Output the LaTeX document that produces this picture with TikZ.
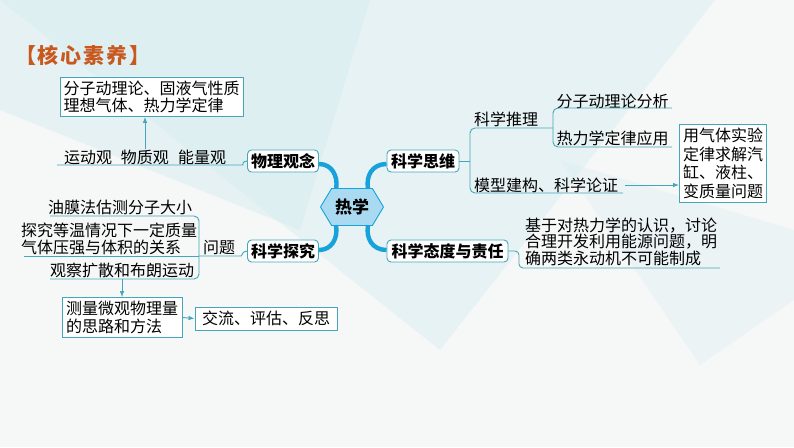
\documentclass[tikz,border=0pt]{standalone}
\usepackage{fontspec}
\setmainfont{Noto Sans CJK SC}
\usetikzlibrary{shapes.symbols,arrows.meta,positioning}
\definecolor{linecol}{HTML}{45A6BA}
\definecolor{trunkcol}{HTML}{17A2DB}
\definecolor{hexfill}{HTML}{A9DAF1}
\definecolor{titlecol}{HTML}{C9581F}
\definecolor{bgcol}{HTML}{F6F7F7}
\definecolor{bandcol}{HTML}{D6EDF1}
\def\bodyfont{\fontsize{16}{17}\selectfont}

\begin{document}
\begin{tikzpicture}[x=1pt,y=-1pt,
    every node/.style={font=\bodyfont,inner sep=0pt},
    topic/.style={draw=linecol,fill=white,rounded corners=4pt,line width=.9pt,
      font=\bodyfont\bfseries,minimum height=22pt},
    box/.style={draw=linecol,fill=white,line width=.9pt,align=left,inner sep=3.5pt},
    branch/.style={draw=linecol,line width=.9pt,rounded corners=5pt},
    trunk/.style={draw=trunkcol,line width=4.4pt},
    arr/.style={draw=linecol,line width=.9pt,-{Latex[length=6pt,width=4.5pt]}}]
  \fill[bgcol] (0,0) rectangle (794,447);
  \fill[bandcol,opacity=.45] (0,0) -- (715,0) -- (440,350) -- cycle;
  \fill[bandcol,opacity=.5] (0,0) -- (370,0) -- (300,230) -- (0,110) -- cycle;
  \fill[bandcol,opacity=.3] (560,160) -- (794,230) -- (794,300) -- (700,365) -- cycle;

  \node[text=titlecol,font=\fontsize{21}{21}\selectfont\bfseries] (title) at (83,55)
    {【\hspace{2pt}核\hspace{2pt}心\hspace{2pt}素\hspace{2pt}养\hspace{2pt}】};

  \node[topic,fill=hexfill,draw=trunkcol,rounded corners=0pt,signal,signal to=east and west,
    signal pointer angle=118,minimum width=63pt,minimum height=37pt,
    font=\fontsize{17}{17}\selectfont\bfseries] (heat) at (352,207) {热学};
  \node[topic,minimum width=71pt] (phys) at (283,161) {物理观念};
  \node[topic,minimum width=72pt] (think) at (423,161) {科学思维};
  \node[topic,minimum width=71pt] (inquiry) at (283,251) {科学探究};
  \node[topic,minimum width=121pt] (attitude) at (447.5,251) {科学态度与责任};

  \draw[trunk] ([yshift=-3pt]phys.east) .. controls (332,164) and (338,176) .. (heat.130);
  \draw[trunk] ([yshift=-3pt]think.west) .. controls (372,164) and (366,176) .. (heat.50);
  \draw[trunk] ([yshift=1pt]inquiry.east) .. controls (332,250) and (338,238) .. (heat.230);
  \draw[trunk] ([yshift=1pt]attitude.west) .. controls (372,250) and (366,238) .. (heat.310);

  \node[box] (ideas) at (151.5,97) {分子动理论、固液气性质\\理想气体、热力学定律};
  \node (views) at (145,157) {运动观\hspace{9pt}物质观\hspace{9pt}能量观};
  \draw[branch] (57,165) -- (238,165) .. controls (243,165) and (242,161) .. (phys.west);
  \draw[arr] (views.north) -- (views.north |- ideas.south);

  \node (reason) at (506,119) {科学推理};
  \node (kinetic) at (612.5,101) {分子动理论分析};
  \node (lawuse) at (612.5,138) {热力学定律应用};
  \node (model) at (546,185) {模型建构、科学论证};
  \node[box,font=\fontsize{16}{18.5}\selectfont] (gas) at (723,163.5) {用气体实验\\定律求解汽\\缸、液柱、\\变质量问题};
  \draw[branch] (think.east) -- (470,161);
  \draw[branch] (553,128) -- (470,128) -- (470,193) -- (623,193);
  \draw[branch] (672,108) -- (553,108) -- (553,147) -- (672,147);
  \draw[arr] ([xshift=7pt]model.east) -- (model.east -| gas.west);

  \node[align=left,font=\fontsize{16}{16.5}\selectfont] (energy) at (621,241.5)
    {基于对热力学的认识，讨论\\合理开发利用能源问题，明\\确两类永动机不可能制成};
  \draw[branch,rounded corners=4pt] (attitude.east) -- (519,251) -- (519,268) -- (720,268);

  \node (issue) at (219,248) {问题};
  \node (oilfilm) at (120,207) {油膜法估测分子大小};
  \node[align=left] (isotherm) at (109,238.5) {探究等温情况下一定质量\\气体压强与体积的关系};
  \node (brownian) at (122,270) {观察扩散和布朗运动};
  \draw[branch] (inquiry.west) .. controls (242,251) and (242,256) .. (236,256) -- (199,256);
  \draw[branch] (50,216) -- (199,216) -- (199,279) -- (50,279);
  \draw[branch] (24,256) -- (199,256);

  \node[box,font=\fontsize{16}{18}\selectfont,inner xsep=4pt] (measure) at (122,317.5) {测量微观物理量\\的思路和方法};
  \node[box,inner xsep=7pt,minimum height=23pt] (exchange) at (266,318.5) {交流、评估、反思};
  \draw[arr] (122,279) -- (measure.north);
  \draw[arr] (measure.east) -- (exchange.west);
\end{tikzpicture}
\end{document}
